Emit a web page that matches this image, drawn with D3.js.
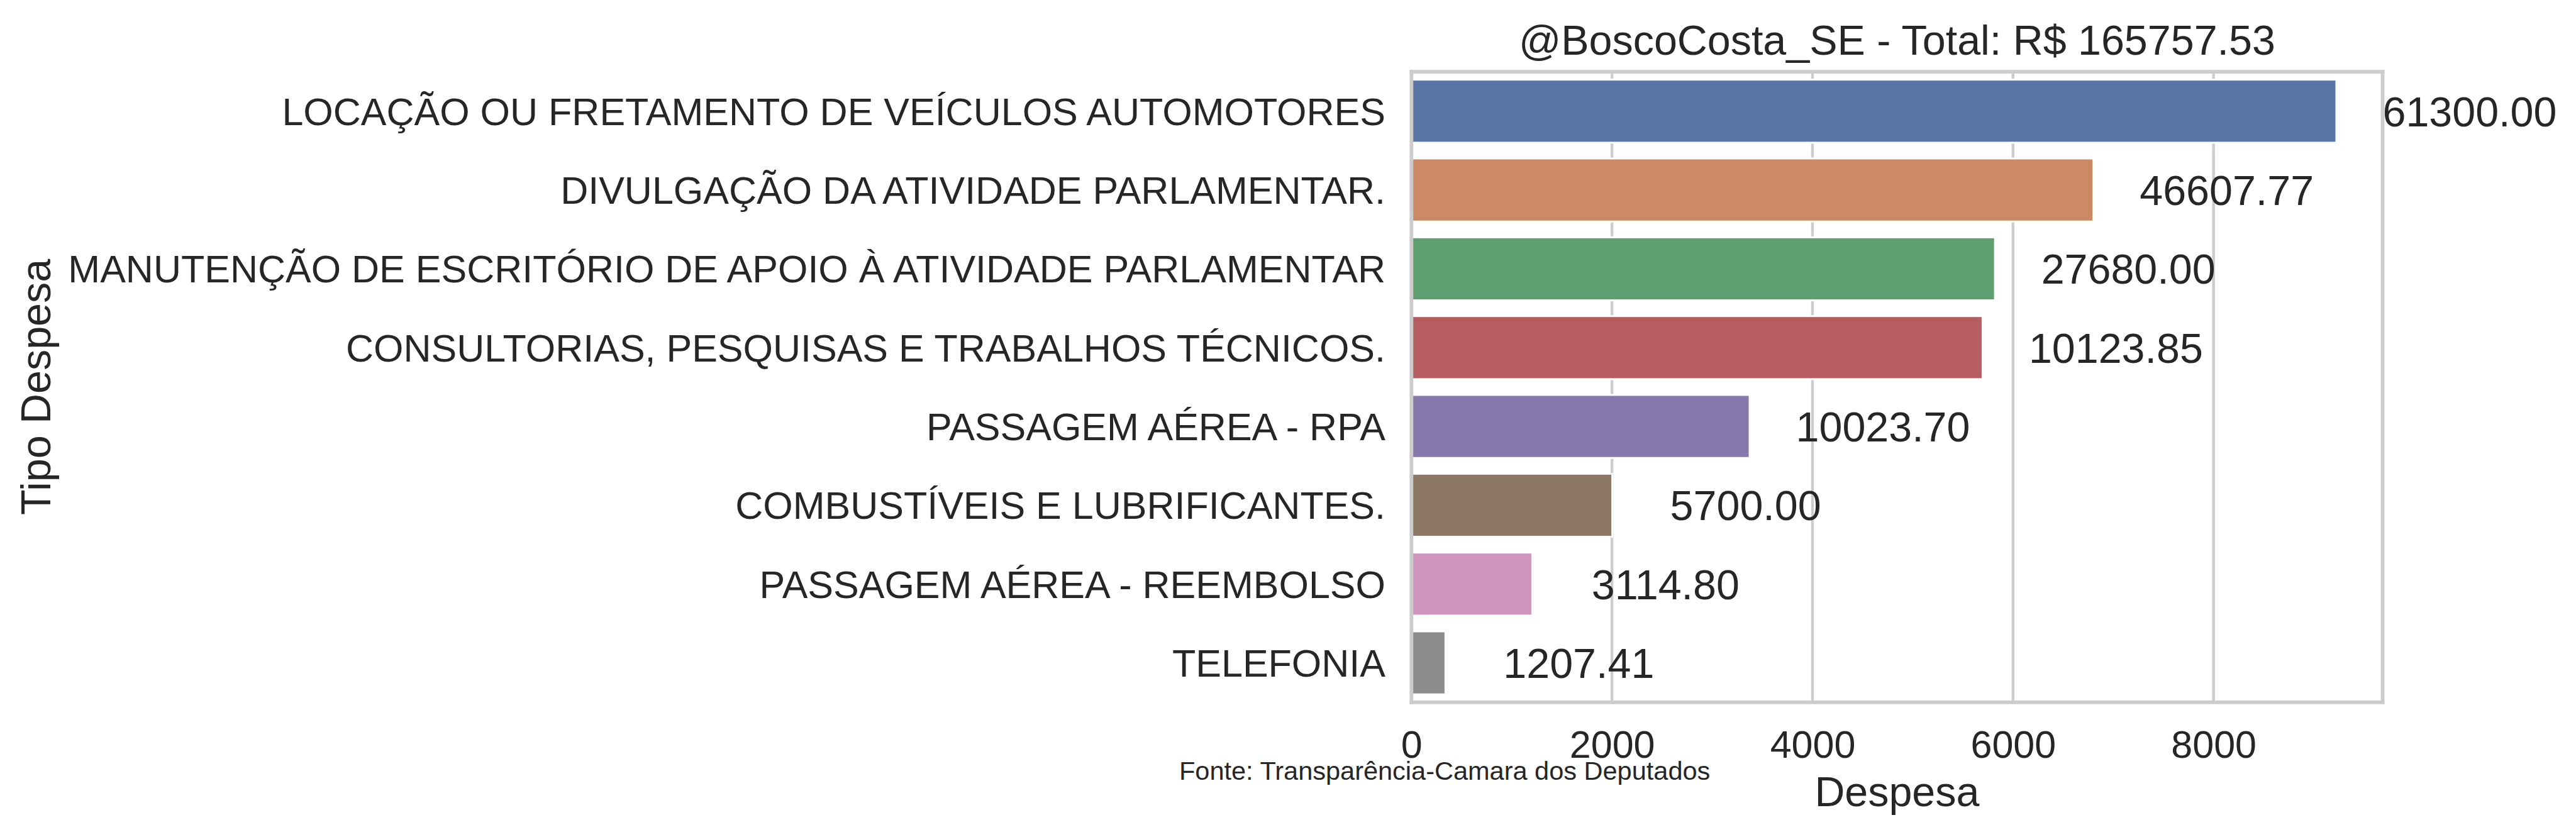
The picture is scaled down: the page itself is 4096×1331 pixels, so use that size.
<!DOCTYPE html>
<html>
<head>
<meta charset="utf-8">
<script src="https://cdn.jsdelivr.net/npm/d3@7"></script>
<style>
  html, body { margin: 0; padding: 0; background: #ffffff; }
  svg { display: block; }
</style>
</head>
<body>
<script>
const categories = [
  "LOCAÇÃO OU FRETAMENTO DE VEÍCULOS AUTOMOTORES",
  "DIVULGAÇÃO DA ATIVIDADE PARLAMENTAR.",
  "MANUTENÇÃO DE ESCRITÓRIO DE APOIO À ATIVIDADE PARLAMENTAR",
  "CONSULTORIAS, PESQUISAS E TRABALHOS TÉCNICOS.",
  "PASSAGEM AÉREA - RPA",
  "COMBUSTÍVEIS E LUBRIFICANTES.",
  "PASSAGEM AÉREA - REEMBOLSO",
  "TELEFONIA"
];
const barValues = [9225, 6802, 5820, 5696, 3373, 2003, 1205, 339];
const valueLabels = ["61300.00", "46607.77", "27680.00", "10123.85", "10023.70", "5700.00", "3114.80", "1207.41"];
const xTickValues = [0, 2000, 4000, 6000, 8000];
const titleText = "@BoscoCosta_SE - Total: R$ 165757.53";
const xLabelText = "Despesa";
const yLabelText = "Tipo Despesa";
const sourceText = "Fonte: Transparência-Camara dos Deputados";
const palette = ["#5975a4", "#cc8963", "#5f9e6e", "#b55d60", "#857aab", "#8d7866", "#d095bf", "#8c8c8c"];

const W = 4096, H = 1331;
const FONT = "'Liberation Sans', Arial, Helvetica, sans-serif";
const TXT = "#262626";
const GRID = "#cccccc";

const plot = { left: 2244.3, right: 3788.5, top: 114.1, bottom: 1116.8 };

const svg = d3.select("body").append("svg")
  .attr("width", W).attr("height", H)
  .attr("viewBox", `0 0 ${W} ${H}`)
  .style("font-family", FONT);

svg.append("rect").attr("width", W).attr("height", H).attr("fill", "#ffffff");

const x = d3.scaleLinear()
  .domain([0, d3.max(barValues) * 1.05])
  .range([plot.left, plot.right]);

const y = d3.scaleBand()
  .domain(categories)
  .range([plot.top, plot.bottom])
  .paddingInner(0.2)
  .paddingOuter(0.1);

// grid
svg.append("g").selectAll("line")
  .data(xTickValues)
  .join("line")
  .attr("x1", d => x(d)).attr("x2", d => x(d))
  .attr("y1", plot.top).attr("y2", plot.bottom)
  .attr("stroke", GRID).attr("stroke-width", 4.4);

// bars
svg.append("g").selectAll("rect")
  .data(categories)
  .join("rect")
  .attr("x", x(0))
  .attr("y", d => y(d))
  .attr("width", (d, i) => x(barValues[i]) - x(0))
  .attr("height", y.bandwidth())
  .attr("fill", (d, i) => palette[i])
  .attr("stroke", "#ffffff")
  .attr("stroke-width", 3.0);

// value labels
const VF = 66.4;
svg.append("g").selectAll("text")
  .data(categories)
  .join("text")
  .attr("x", (d, i) => x(barValues[i]) + 212)
  .attr("y", d => y(d) + y.bandwidth() / 2 + 0.36 * VF)
  .attr("text-anchor", "middle")
  .attr("font-size", VF)
  .attr("fill", TXT)
  .text((d, i) => valueLabels[i]);

// spines
const SP = 5.8;
const sp = svg.append("g").attr("fill", "none").attr("stroke", GRID).attr("stroke-width", SP).attr("stroke-linecap", "square");
sp.append("line").attr("x1", plot.left).attr("x2", plot.left).attr("y1", plot.top).attr("y2", plot.bottom);
sp.append("line").attr("x1", plot.right).attr("x2", plot.right).attr("y1", plot.top).attr("y2", plot.bottom);
sp.append("line").attr("x1", plot.left).attr("x2", plot.right).attr("y1", plot.top).attr("y2", plot.top);
sp.append("line").attr("x1", plot.left).attr("x2", plot.right).attr("y1", plot.bottom).attr("y2", plot.bottom);

// y tick labels
const TF = 61;
const yAxis = d3.axisLeft(y).tickSize(0).tickPadding(0);
const yg = svg.append("g").attr("transform", `translate(2203,0)`).call(yAxis);
yg.select(".domain").remove();
yg.selectAll("text")
  .attr("font-size", TF)
  .attr("font-family", FONT)
  .attr("fill", TXT)
  .attr("x", 0)
  .attr("dy", null)
  .attr("y", 0.36 * TF);

// x tick labels
const xAxis = d3.axisBottom(x).tickValues(xTickValues).tickSize(0).tickPadding(0).tickFormat(d3.format("d"));
const xg = svg.append("g").attr("transform", `translate(0,0)`).call(xAxis);
xg.select(".domain").remove();
xg.selectAll("text")
  .attr("font-size", TF)
  .attr("font-family", FONT)
  .attr("fill", TXT)
  .attr("dy", null)
  .attr("y", 1205);

// title
const plotCx = (plot.left + plot.right) / 2;
svg.append("text")
  .attr("x", plotCx).attr("y", 87)
  .attr("text-anchor", "middle")
  .attr("font-size", 66.4).attr("fill", TXT)
  .text(titleText);

// x label
svg.append("text")
  .attr("x", plotCx).attr("y", 1282)
  .attr("text-anchor", "middle")
  .attr("font-size", 66.4).attr("fill", TXT)
  .text(xLabelText);

// y label
const plotCy = (plot.top + plot.bottom) / 2;
svg.append("text")
  .attr("transform", `translate(80,${plotCy}) rotate(-90)`)
  .attr("text-anchor", "middle")
  .attr("font-size", 66.4).attr("fill", TXT)
  .text(yLabelText);

// source
svg.append("text")
  .attr("x", 1875).attr("y", 1240)
  .attr("font-size", 41.5).attr("fill", TXT)
  .text(sourceText);
</script>
</body>
</html>
